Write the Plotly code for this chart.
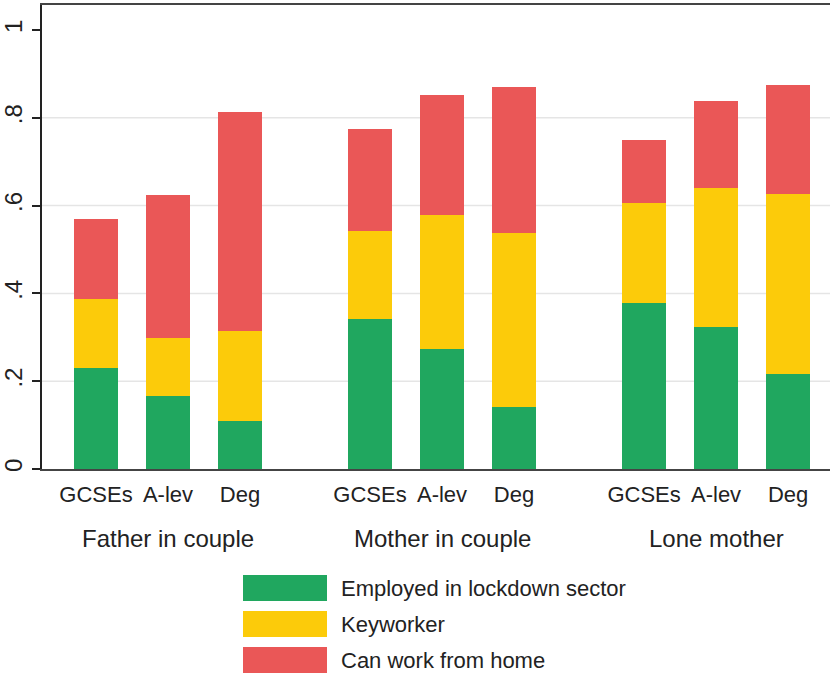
import plotly.graph_objects as go

# ---- data ----
groups = ["Father in couple", "Mother in couple", "Lone mother"]
quals = ["GCSEs", "A-lev", "Deg"]
series_names = ["Employed in lockdown sector", "Keyworker", "Can work from home"]
lockdown = [0.230, 0.166, 0.109, 0.342, 0.273, 0.141, 0.378, 0.323, 0.216]
keyworker = [0.157, 0.132, 0.205, 0.200, 0.306, 0.397, 0.228, 0.317, 0.410]
wfh = [0.183, 0.326, 0.499, 0.232, 0.273, 0.332, 0.143, 0.198, 0.249]
y_ticks = [0, 0.2, 0.4, 0.6, 0.8, 1]
y_ticktext = ["0", ".2", ".4", ".6", ".8", "1"]

colors = ["#20a75f", "#fccb0a", "#ea5757"]
FONT = "Liberation Sans, Arial, sans-serif"
TXT = "#222222"

W, H = 830, 674
ML, MR, MT, MB = 42, 0, 5, 205
PW, PH = W - ML - MR, H - MT - MB

GROUP_PITCH = 3.806
xpos = [g * GROUP_PITCH + i for g in range(len(groups)) for i in range(len(quals))]
xlabels = [q for _ in groups for q in quals]

fig = go.Figure()
for name, vals, col in zip(series_names, [lockdown, keyworker, wfh], colors):
    fig.add_trace(go.Bar(x=xpos, y=vals, name=name, marker=dict(color=col, line=dict(width=0)),
                         width=0.611, showlegend=False))

def px_x(p):
    return (p - ML) / PW

def px_y(p):
    return (H - MB - p) / PH

shapes = []
for v in y_ticks[1:-1]:
    shapes.append(dict(type="line", xref="paper", x0=0, x1=1, yref="y", y0=v, y1=v,
                       line=dict(color="#e5e5e5", width=1.5), layer="below"))

annotations = []
for g, name in enumerate(groups):
    annotations.append(dict(x=g * GROUP_PITCH + 1, y=px_y(538), xref="x", yref="paper",
                            text=name, showarrow=False, xanchor="center", yanchor="middle",
                            font=dict(size=24, color=TXT, family=FONT)))

# custom legend
for k, (name, col) in enumerate(zip(series_names, colors)):
    top = 575 + 36 * k
    shapes.append(dict(type="rect", xref="paper", yref="paper",
                       x0=px_x(243), x1=px_x(327), y0=px_y(top + 26), y1=px_y(top),
                       fillcolor=col, line=dict(width=0)))
    annotations.append(dict(x=px_x(339), y=px_y(top + 13), xref="paper", yref="paper",
                            text=name, showarrow=False, xanchor="left", yanchor="middle",
                            font=dict(size=22, color=TXT, family=FONT)))

fig.update_layout(
    width=W, height=H,
    margin=dict(l=ML, r=MR, t=MT, b=MB, pad=0, autoexpand=False),
    barmode="stack",
    plot_bgcolor="white", paper_bgcolor="white",
    font=dict(family=FONT, size=22, color=TXT),
    shapes=shapes, annotations=annotations,
    xaxis=dict(range=[-0.75, (W - 96) / 72.0], tickvals=xpos, ticktext=xlabels,
               showgrid=False, zeroline=False, showline=True, linecolor="#444444",
               linewidth=2, mirror=True, ticks="outside", ticklen=5, tickcolor="rgba(0,0,0,0)",
               tickfont=dict(size=22, color=TXT, family=FONT), automargin=False),
    yaxis=dict(range=[0, 1.057], tickvals=y_ticks, ticktext=y_ticktext, tickangle=-90,
               showgrid=False, zeroline=False, showline=True, linecolor="#222222",
               linewidth=2, ticks="outside", ticklen=8, tickwidth=1.5, tickcolor="#222222",
               tickfont=dict(size=24, color=TXT, family=FONT), automargin=False),
)

fig.write_html("out.html", config={"displayModeBar": False})

# remove default page margin so the figure sits at the window's top-left corner
with open("out.html", "r", encoding="utf-8") as f:
    html = f.read()
html = html.replace("<head>", "<head><style>html,body{margin:0;padding:0;overflow:hidden;}</style>", 1)
with open("out.html", "w", encoding="utf-8") as f:
    f.write(html)
